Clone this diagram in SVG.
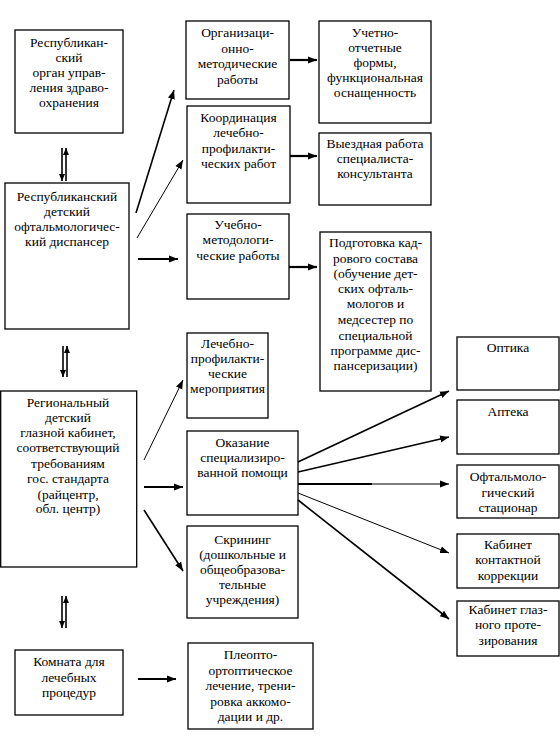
<svg xmlns="http://www.w3.org/2000/svg" width="560" height="748" viewBox="0 0 560 748">
<style>
.box{fill:#fff;stroke:#000;stroke-width:1.3}
text{font-family:"Liberation Serif","Times New Roman",serif;font-size:13.5px;fill:#000;text-anchor:middle}
.c{fill:none;stroke:#000}
.t1{stroke-width:1}
.t2{stroke-width:1.6}
.t3{stroke-width:2.2}
</style>
<defs>
<marker id="ah" markerUnits="userSpaceOnUse" markerWidth="10" markerHeight="8" refX="9" refY="4" orient="auto">
<path d="M0,0.5 L9,4 L0,7.5 Z" fill="#000"/>
</marker>
<marker id="ahs" markerUnits="userSpaceOnUse" markerWidth="8" markerHeight="8" refX="7" refY="4" orient="auto">
<path d="M0,1 L7,4 L0,7 Z" fill="#000"/>
</marker>
</defs>
<rect width="560" height="748" fill="#fff"/>

<g id="n-organ">
<rect class="box" x="15" y="30" width="108" height="103"/>
<text x="69" y="47">Республикан-</text>
<text x="69" y="62">ский</text>
<text x="69" y="77">орган управ-</text>
<text x="69" y="92">ления здраво-</text>
<text x="69" y="107">охранения</text>
</g>

<g id="n-dispanser">
<rect class="box" x="5" y="183" width="124" height="146"/>
<text x="67" y="201">Республиканский</text>
<text x="67" y="216">детский</text>
<text x="67" y="231">офтальмологичес-</text>
<text x="67" y="246">кий диспансер</text>
</g>

<g id="n-regional">
<rect class="box" x="0.7" y="391" width="136" height="176"/>
<text x="68" y="407">Региональный</text>
<text x="68" y="422">детский</text>
<text x="68" y="437">глазной кабинет,</text>
<text x="68" y="452">соответствующий</text>
<text x="68" y="468">требованиям</text>
<text x="68" y="483">гос. стандарта</text>
<text x="68" y="499">(райцентр,</text>
<text x="68" y="513">обл. центр)</text>
</g>

<g id="n-komnata">
<rect class="box" x="15" y="650" width="108" height="65"/>
<text x="69" y="666">Комната для</text>
<text x="69" y="682">лечебных</text>
<text x="69" y="697">процедур</text>
</g>

<g id="n-orgmet">
<rect class="box" x="186" y="21" width="103" height="78"/>
<text x="237.5" y="37">Организаци-</text>
<text x="237.5" y="53">онно-</text>
<text x="237.5" y="68">методические</text>
<text x="237.5" y="84">работы</text>
</g>

<g id="n-koord">
<rect class="box" x="187" y="106" width="103" height="97"/>
<text x="238.5" y="122">Координация</text>
<text x="238.5" y="137">лечебно-</text>
<text x="238.5" y="153">профилакти-</text>
<text x="238.5" y="168">ческих работ</text>
</g>

<g id="n-uchebno">
<rect class="box" x="187" y="214" width="102" height="85"/>
<text x="238" y="229">Учебно-</text>
<text x="238" y="244">методологи-</text>
<text x="238" y="260">ческие работы</text>
</g>

<g id="n-lechprof">
<rect class="box" x="187" y="333" width="81" height="85"/>
<text x="227.5" y="348">Лечебно-</text>
<text x="227.5" y="363">профилакти-</text>
<text x="227.5" y="378">ческие</text>
<text x="227.5" y="393">мероприятия</text>
</g>

<g id="n-okazanie">
<rect class="box" x="187" y="431" width="111" height="84"/>
<text x="242.5" y="447">Оказание</text>
<text x="242.5" y="462">специализиро-</text>
<text x="242.5" y="477">ванной помощи</text>
</g>

<g id="n-skrining">
<rect class="box" x="187" y="526" width="111" height="92"/>
<text x="242.5" y="544">Скрининг</text>
<text x="242.5" y="559">(дошкольные и</text>
<text x="242.5" y="574">общеобразова-</text>
<text x="242.5" y="589">тельные</text>
<text x="242.5" y="604">учреждения)</text>
</g>

<g id="n-pleopto">
<rect class="box" x="188" y="643" width="125" height="86"/>
<text x="250.5" y="659">Плеопто-</text>
<text x="250.5" y="675">ортоптическое</text>
<text x="250.5" y="690">лечение, трени-</text>
<text x="250.5" y="706">ровка аккомо-</text>
<text x="250.5" y="721">дации и др.</text>
</g>

<g id="n-uchetno">
<rect class="box" x="319" y="21" width="112" height="102"/>
<text x="375" y="37">Учетно-</text>
<text x="375" y="52">отчетные</text>
<text x="375" y="67">формы,</text>
<text x="375" y="82">функциональная</text>
<text x="375" y="97">оснащенность</text>
</g>

<g id="n-vyezd">
<rect class="box" x="319" y="133" width="112" height="72"/>
<text x="375" y="148">Выездная работа</text>
<text x="375" y="163">специалиста-</text>
<text x="375" y="178">консультанта</text>
</g>

<g id="n-podgotovka">
<rect class="box" x="320" y="232" width="111" height="159"/>
<text x="375.5" y="247">Подготовка кад-</text>
<text x="375.5" y="263">рового состава</text>
<text x="375.5" y="278">(обучение дет-</text>
<text x="375.5" y="293">ских офталь-</text>
<text x="375.5" y="308">мологов и</text>
<text x="375.5" y="324">медсестер по</text>
<text x="375.5" y="340">специальной</text>
<text x="375.5" y="355">программе дис-</text>
<text x="375.5" y="370">пансеризации)</text>
</g>

<g id="n-optika">
<rect class="box" x="457" y="337" width="102" height="53"/>
<text x="508" y="352">Оптика</text>
</g>

<g id="n-apteka">
<rect class="box" x="457" y="400" width="102" height="54"/>
<text x="508" y="416">Аптека</text>
</g>

<g id="n-stacionar">
<rect class="box" x="457" y="465" width="102" height="53"/>
<text x="508" y="481">Офтальмоло-</text>
<text x="508" y="497">гический</text>
<text x="508" y="512">стационар</text>
</g>

<g id="n-kontakt">
<rect class="box" x="457" y="534" width="102" height="54"/>
<text x="508" y="549">Кабинет</text>
<text x="508" y="564">контактной</text>
<text x="508" y="580">коррекции</text>
</g>

<g id="n-protez">
<rect class="box" x="457" y="601" width="102" height="55"/>
<text x="508" y="614">Кабинет глаз-</text>
<text x="508" y="629">ного проте-</text>
<text x="508" y="645">зирования</text>
</g>

<g id="connectors">
<line class="c t2" x1="136" y1="213" x2="174" y2="90" marker-end="url(#ah)"/>
<line class="c t1" x1="137" y1="238" x2="183" y2="160" marker-end="url(#ah)"/>
<line class="c t3" x1="138" y1="259" x2="178" y2="259" marker-end="url(#ah)"/>
<line class="c t3" x1="290" y1="60" x2="317" y2="60" marker-end="url(#ah)"/>
<line class="c t3" x1="290" y1="156" x2="317" y2="156" marker-end="url(#ah)"/>
<line class="c t3" x1="289" y1="267" x2="317" y2="267" marker-end="url(#ah)"/>
<line class="c t1" x1="144" y1="460" x2="183" y2="380" marker-end="url(#ah)"/>
<line class="c t3" x1="144" y1="487" x2="183" y2="487" marker-end="url(#ah)"/>
<line class="c t2" x1="144" y1="510" x2="183" y2="571" marker-end="url(#ah)"/>
<line class="c t2" x1="298" y1="462" x2="449" y2="391" marker-end="url(#ah)"/>
<line class="c t2" x1="298" y1="472" x2="449" y2="437" marker-end="url(#ah)"/>
<line class="c t3" x1="298" y1="484" x2="372" y2="484"/>
<line class="c t1" x1="370" y1="484" x2="449" y2="484" marker-end="url(#ah)"/>
<line class="c t1" x1="298" y1="493" x2="449" y2="553" marker-end="url(#ah)"/>
<line class="c t2" x1="298" y1="500" x2="449" y2="619" marker-end="url(#ah)"/>
<line class="c t3" x1="138" y1="679" x2="176" y2="679" marker-end="url(#ah)"/>
<line class="c t2" x1="62" y1="148" x2="62" y2="181" marker-end="url(#ahs)"/>
<line class="c t2" x1="66" y1="181" x2="66" y2="148" marker-end="url(#ahs)"/>
<line class="c t2" x1="63" y1="346" x2="63" y2="377" marker-end="url(#ahs)"/>
<line class="c t2" x1="67" y1="377" x2="67" y2="346" marker-end="url(#ahs)"/>
<line class="c t2" x1="62" y1="596" x2="62" y2="628" marker-end="url(#ahs)"/>
<line class="c t2" x1="66" y1="628" x2="66" y2="596" marker-end="url(#ahs)"/>
</g>
</svg>
